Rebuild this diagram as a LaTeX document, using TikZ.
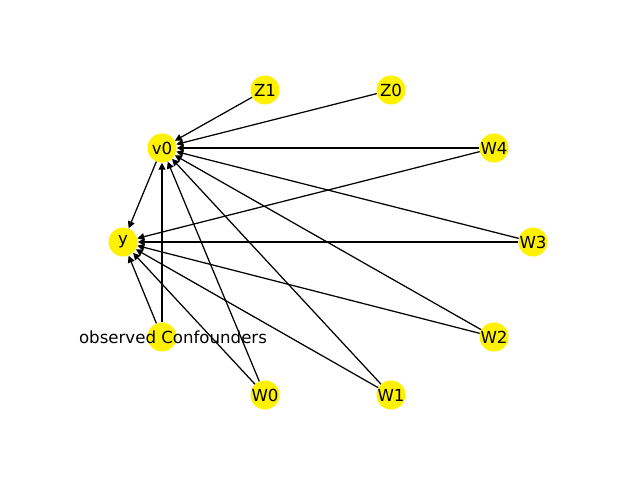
\documentclass[tikz,border=0pt]{standalone}
\usepackage{fontspec}
\setmainfont{DejaVu Sans}
\usetikzlibrary{arrows.meta}
\tikzset{
  vert/.style={circle,fill=yellow,minimum size=0.29in,inner sep=0pt},
  lbl/.style={inner sep=0pt,font=\fontsize{12}{14}\selectfont},
  edge/.style={-{Triangle[length=5pt,width=5pt]},line width=0.9pt,black}
}
\begin{document}
\begin{tikzpicture}[x=0.01in,y=-0.01in]
        \useasboundingbox (0,0) rectangle (640,480);
        % nodes on the circle
        \node[vert] (w3) at (533,242) {};
        \node[vert] (w4) at (494,148) {};
        \node[vert] (z0) at (391,90) {};
        \node[vert] (z1) at (265,90) {};
        \node[vert] (v0) at (162,148) {};
        \node[vert] (y) at (123,242) {};
        \node[vert] (oc) at (162,337) {};
        \node[vert] (w0) at (265,395) {};
        \node[vert] (w1) at (391,395) {};
        \node[vert] (w2) at (494,337) {};
        % edges
        \foreach \s in {z1,z0,w4,w3,w2,w1,w0,oc}
        \draw[edge] (\s) -- (v0);
        \foreach \s in {v0,w4,w3,w2,w1,w0,oc}
        \draw[edge] (\s) -- (y);
        % labels
        \foreach \n/\t in {w3/W3,w4/W4,z0/Z0,z1/Z1,v0/v0,y/y,w0/W0,w1/W1,w2/W2}
        \node[lbl] at (\n) {\t};
        \node[lbl] at ([xshift=0.11in]oc) {observed Confounders};
    \end{tikzpicture}
\end{document}
